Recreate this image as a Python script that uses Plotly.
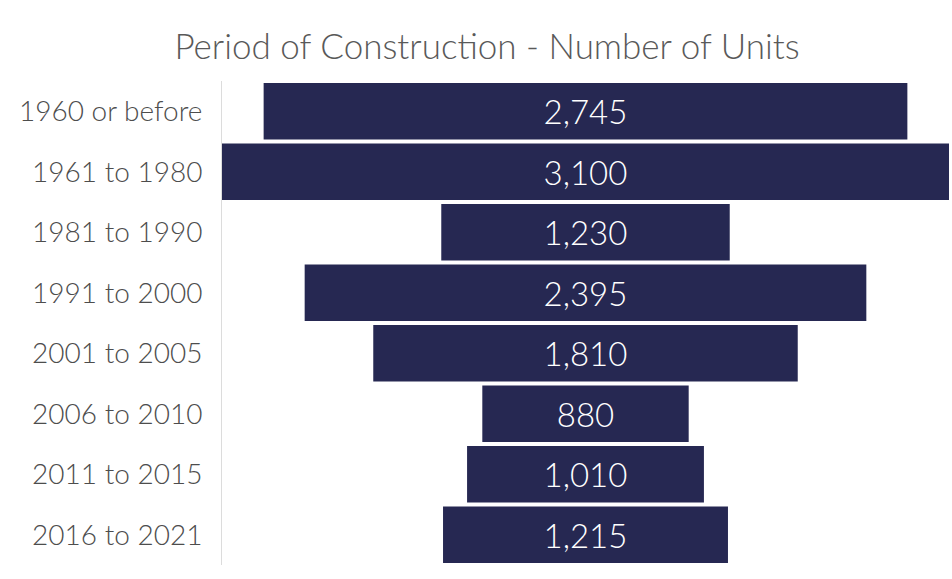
import plotly.graph_objects as go

categories = ["1960 or before", "1961 to 1980", "1981 to 1990", "1991 to 2000",
              "2001 to 2005", "2006 to 2010", "2011 to 2015", "2016 to 2021"]
units = [2745, 3100, 1230, 2395, 1810, 880, 1010, 1215]

FONT = "Lato"
BAR = "#262852"

fig = go.Figure(go.Funnel(
    y=categories,
    x=units,
    texttemplate="%{x:,}",
    textposition="inside",
    insidetextanchor="middle",
    textfont=dict(family=FONT, size=33, color="white", weight=300),
    marker=dict(color=BAR, line=dict(width=0)),
    connector=dict(visible=False),
    hoverinfo="y+x",
))

fig.update_layout(
    width=952, height=579,
    paper_bgcolor="white", plot_bgcolor="white",
    margin=dict(l=222, r=3, t=81, b=14, autoexpand=False),
    title=dict(text="Period of Construction - Number of Units",
               x=487 / 952, xanchor="center", y=1 - 47 / 579, yanchor="middle",
               font=dict(family=FONT, size=35, color="#595959", weight=300)),
    funnelgap=0.065,
    showlegend=False,
    font=dict(family=FONT),
)
fig.update_xaxes(range=[-1550, 1550], visible=False, showgrid=False, zeroline=False)
fig.update_yaxes(autorange="reversed", showgrid=False, zeroline=False,
                 showline=True, linecolor="#dcdcdc", linewidth=1,
                 ticks="", ticklabelstandoff=13,
                 tickfont=dict(family=FONT, size=28, color="#4d4d4d", weight=300))

fig.write_html(
    "out.html",
    config={"displayModeBar": False},
    post_script="document.body.style.margin='0';document.body.style.overflow='hidden';",
)
